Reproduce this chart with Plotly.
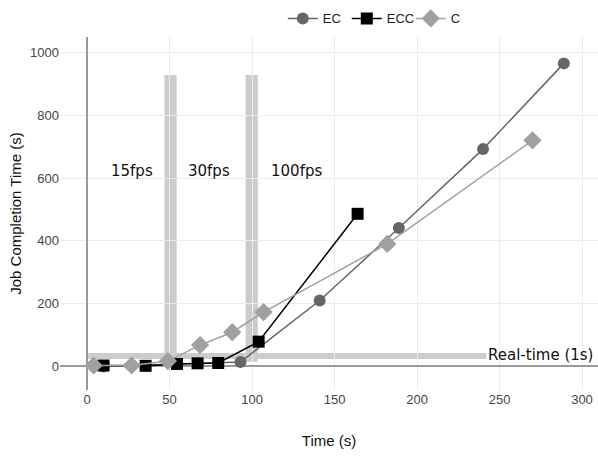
import plotly.graph_objects as go

# Data
ec_x = [10, 93, 141, 189, 240, 289]
ec_y = [0, 14, 210, 441, 692, 965]
ecc_x = [10, 35.5, 54.5, 67, 79.5, 104, 164]
ecc_y = [3, 2, 8, 10, 11, 79, 486]
c_x = [4, 27, 49, 68.5, 88, 107, 182, 270]
c_y = [3, 3, 17, 68, 109, 173, 390, 720]

# fps threshold bars (x center) and labels
fps_x = [50.6, 99.8]
fps_top = 928
fps_bottom = 15
fps_labels = ["15fps", "30fps", "100fps"]
fps_label_x = [27, 74, 127]
fps_label_y = 622
realtime_y = 33
realtime_xend = 242
realtime_label = "Real-time (1s)"

fig = go.Figure()

fig.add_trace(go.Scatter(x=ec_x, y=ec_y, name="EC", mode="lines+markers",
                         line=dict(color="#666666", width=1.5),
                         marker=dict(symbol="circle", size=12, color="#666666")))
fig.add_trace(go.Scatter(x=ecc_x, y=ecc_y, name="ECC", mode="lines+markers",
                         line=dict(color="#000000", width=1.5),
                         marker=dict(symbol="square", size=12, color="#000000")))
fig.add_trace(go.Scatter(x=c_x, y=c_y, name="C", mode="lines+markers",
                         line=dict(color="#a0a0a0", width=1.5),
                         marker=dict(symbol="diamond", size=14, color="#a0a0a0")))

shapes = []
for fx in fps_x:
    shapes.append(dict(type="rect", xref="x", yref="y", x0=fx - 3.7, x1=fx + 3.7,
                       y0=fps_bottom, y1=fps_top, fillcolor="#cccccc",
                       line=dict(width=0), layer="below"))
shapes.append(dict(type="rect", xref="x", yref="y", x0=0.7, x1=realtime_xend,
                   y0=realtime_y - 9.5, y1=realtime_y + 9.5, fillcolor="#cccccc",
                   line=dict(width=0), layer="below"))

annotations = []
for lbl, lx in zip(fps_labels, fps_label_x):
    annotations.append(dict(x=lx, y=fps_label_y, text=lbl, showarrow=False,
                            font=dict(family="DejaVu Sans", size=15, color="#111111"),
                            xanchor="center", yanchor="middle"))
annotations.append(dict(x=realtime_xend, y=realtime_y + 4, text=realtime_label, showarrow=False,
                        font=dict(family="DejaVu Sans", size=15, color="#111111"),
                        xanchor="left", yanchor="middle", xshift=0))

fig.update_layout(
    width=598, height=456,
    margin=dict(l=60, r=0, t=37, b=66),
    plot_bgcolor="white", paper_bgcolor="white",
    font=dict(family="Liberation Sans, Arial, sans-serif", color="#222222"),
    shapes=shapes, annotations=annotations,
    legend=dict(orientation="h", x=0.771, xanchor="right", y=1.01, yanchor="bottom",
                font=dict(size=13, color="#222222"), itemwidth=30,
                entrywidth=19, entrywidthmode="pixels",
                bgcolor="rgba(0,0,0,0)"),
    showlegend=True,
)
fig.update_xaxes(range=[-16.4, 309.7], tickvals=[0, 50, 100, 150, 200, 250, 300],
                 showgrid=True, gridcolor="#ebebeb", gridwidth=1,
                 zeroline=True, zerolinecolor="#999999", zerolinewidth=1.5,
                 showline=False, ticks="", tickfont=dict(size=13, color="#444444"),
                 title=dict(text="Time (s)", font=dict(size=15, color="#111111"), standoff=29))
fig.update_yaxes(range=[-75, 1049], tickvals=[0, 200, 400, 600, 800, 1000],
                 showgrid=True, gridcolor="#ebebeb", gridwidth=1,
                 zeroline=True, zerolinecolor="#999999", zerolinewidth=1.5,
                 showline=False, ticks="", tickfont=dict(size=13, color="#444444"),
                 title=dict(text="Job Completion Time (s)", font=dict(size=15, color="#111111"), standoff=4))

fig.write_html("out.html")
